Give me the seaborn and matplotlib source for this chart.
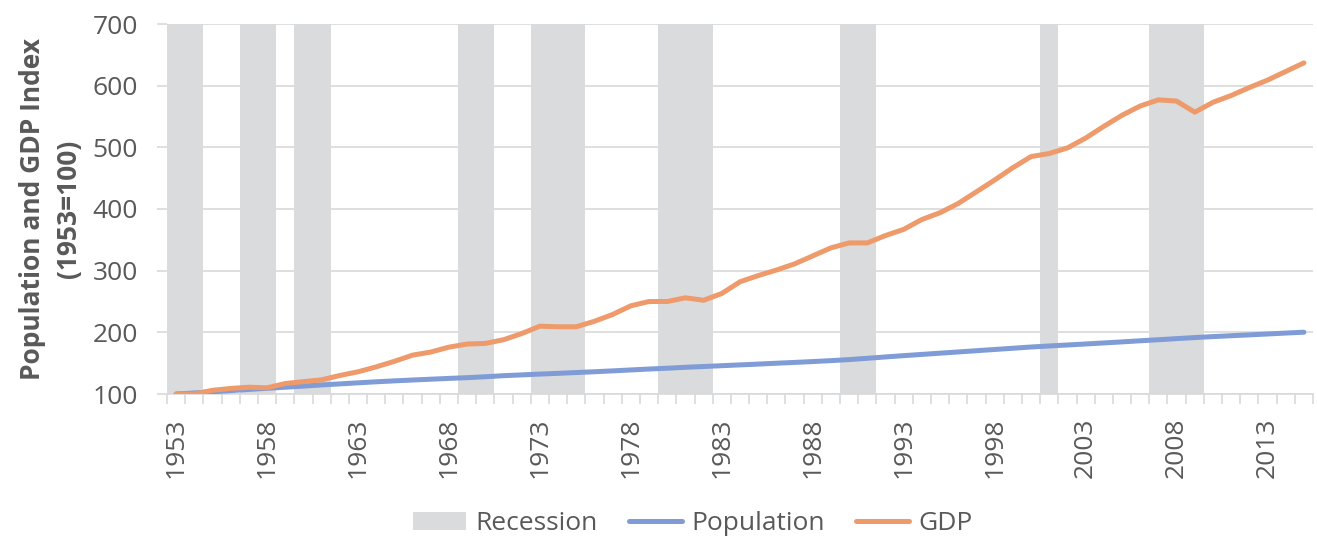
import numpy as np
import pandas as pd
import seaborn as sns
import matplotlib.pyplot as plt
from matplotlib.patches import Patch
from matplotlib.ticker import MultipleLocator, FixedLocator

# --- data (index, 1953 = 100) ---
years = list(range(1953, 2016))

gdp = [100, 100, 106, 109, 111, 110, 117, 120, 123, 130,
       136, 144, 153, 163, 168, 176, 181, 182, 188, 198,
       210, 209, 209, 218, 229, 243, 250, 250, 256, 252,
       263, 282, 292, 301, 311, 324, 337, 345, 345, 357,
       367, 383, 394, 409, 428, 447, 467, 485, 490, 499,
       515, 534, 552, 567, 577, 575, 557, 573, 584, 597,
       609, 623, 637]

population = [100.0, 101.7, 103.6, 105.4, 107.4, 109.2, 111.0, 112.8, 114.7, 116.4,
              118.1, 119.8, 121.3, 122.7, 124.0, 125.3, 126.5, 128.0, 129.7, 131.0,
              132.3, 133.5, 134.8, 136.1, 137.5, 139.0, 140.5, 141.8, 143.3, 144.6,
              145.9, 147.2, 148.5, 149.9, 151.2, 152.6, 154.1, 155.8, 157.9, 160.1,
              162.2, 164.2, 166.2, 168.2, 170.2, 172.2, 174.2, 176.2, 177.9, 179.5,
              181.1, 182.8, 184.5, 186.3, 188.0, 189.8, 191.5, 193.1, 194.5, 195.9,
              197.3, 198.8, 200.2]

recession_years = [1953, 1954, 1957, 1958, 1960, 1961, 1969, 1970,
                   1973, 1974, 1975, 1980, 1981, 1982, 1990, 1991,
                   2001, 2007, 2008, 2009]

label_years = list(range(1953, 2016, 5))

TEXT = "#595959"
GRID = "#D9D9D9"
BLUE = "#7F9CD6"
ORANGE = "#EE9A6B"
GREY = "#DADBDD"

sns.set_theme(style="white")
plt.rcParams["font.family"] = ["Open Sans", "DejaVu Sans"]

df = pd.DataFrame({
    "Year": years * 2,
    "Index": population + gdp,
    "Series": ["Population"] * len(years) + ["GDP"] * len(years),
})

fig, ax = plt.subplots(figsize=(13.17, 5.40), dpi=100)
fig.subplots_adjust(left=167 / 1317, right=1313 / 1317, top=1 - 24 / 540, bottom=1 - 394 / 540)

ymin, ymax = 100, 700
flags = np.array([1 if y in recession_years else 0 for y in years])
ax.bar(years, flags * (ymax - ymin), bottom=ymin, width=1.0, color=GREY, linewidth=0, zorder=1)

sns.lineplot(data=df, x="Year", y="Index", hue="Series",
             palette={"Population": BLUE, "GDP": ORANGE},
             linewidth=3.6, ax=ax, legend=False, zorder=3)
for ln in ax.lines:
    ln.set_solid_capstyle("round")
    ln.set_solid_joinstyle("round")

ax.set_xlim(1952.5, 2015.5)
ax.set_ylim(ymin, ymax)
ax.yaxis.set_major_locator(MultipleLocator(100))
ax.grid(axis="y", color=GRID, linewidth=1.2, zorder=0)
ax.set_axisbelow(True)

ax.xaxis.set_major_locator(FixedLocator(label_years))
ax.xaxis.set_minor_locator(FixedLocator([y - 0.5 for y in years] + [2015.5]))
ax.tick_params(axis="x", which="major", length=0, pad=17, labelsize=19,
               labelcolor=TEXT, labelrotation=90)
ax.tick_params(axis="x", which="minor", length=7, width=1.2, color=GRID, bottom=True)
ax.tick_params(axis="y", which="major", length=7, width=1.2, color=GRID, left=True,
               pad=14, labelsize=19, labelcolor=TEXT)

for s in ["top", "right", "left"]:
    ax.spines[s].set_visible(False)
ax.spines["bottom"].set_color(GRID)
ax.spines["bottom"].set_linewidth(1.2)

ax.set_xlabel("")
ax.set_ylabel("Population and GDP Index\n(1953=100)", fontsize=19, fontweight="bold",
              color=TEXT, linespacing=1.45)
ax.yaxis.set_label_coords(-0.074, 0.5)

handles = [
    Patch(facecolor=GREY, edgecolor="none", label="Recession"),
    plt.Line2D([], [], color=BLUE, linewidth=3.6, solid_capstyle="round", label="Population"),
    plt.Line2D([], [], color=ORANGE, linewidth=3.6, solid_capstyle="round", label="GDP"),
]
leg = fig.legend(handles=handles, loc="center", bbox_to_anchor=(0.526, 0.03), ncol=3,
                 frameon=False, fontsize=19, handlelength=2.0, handleheight=0.7,
                 handletextpad=0.35, columnspacing=1.2)
for t in leg.get_texts():
    t.set_color(TEXT)

fig.savefig("out.png", dpi=100)
